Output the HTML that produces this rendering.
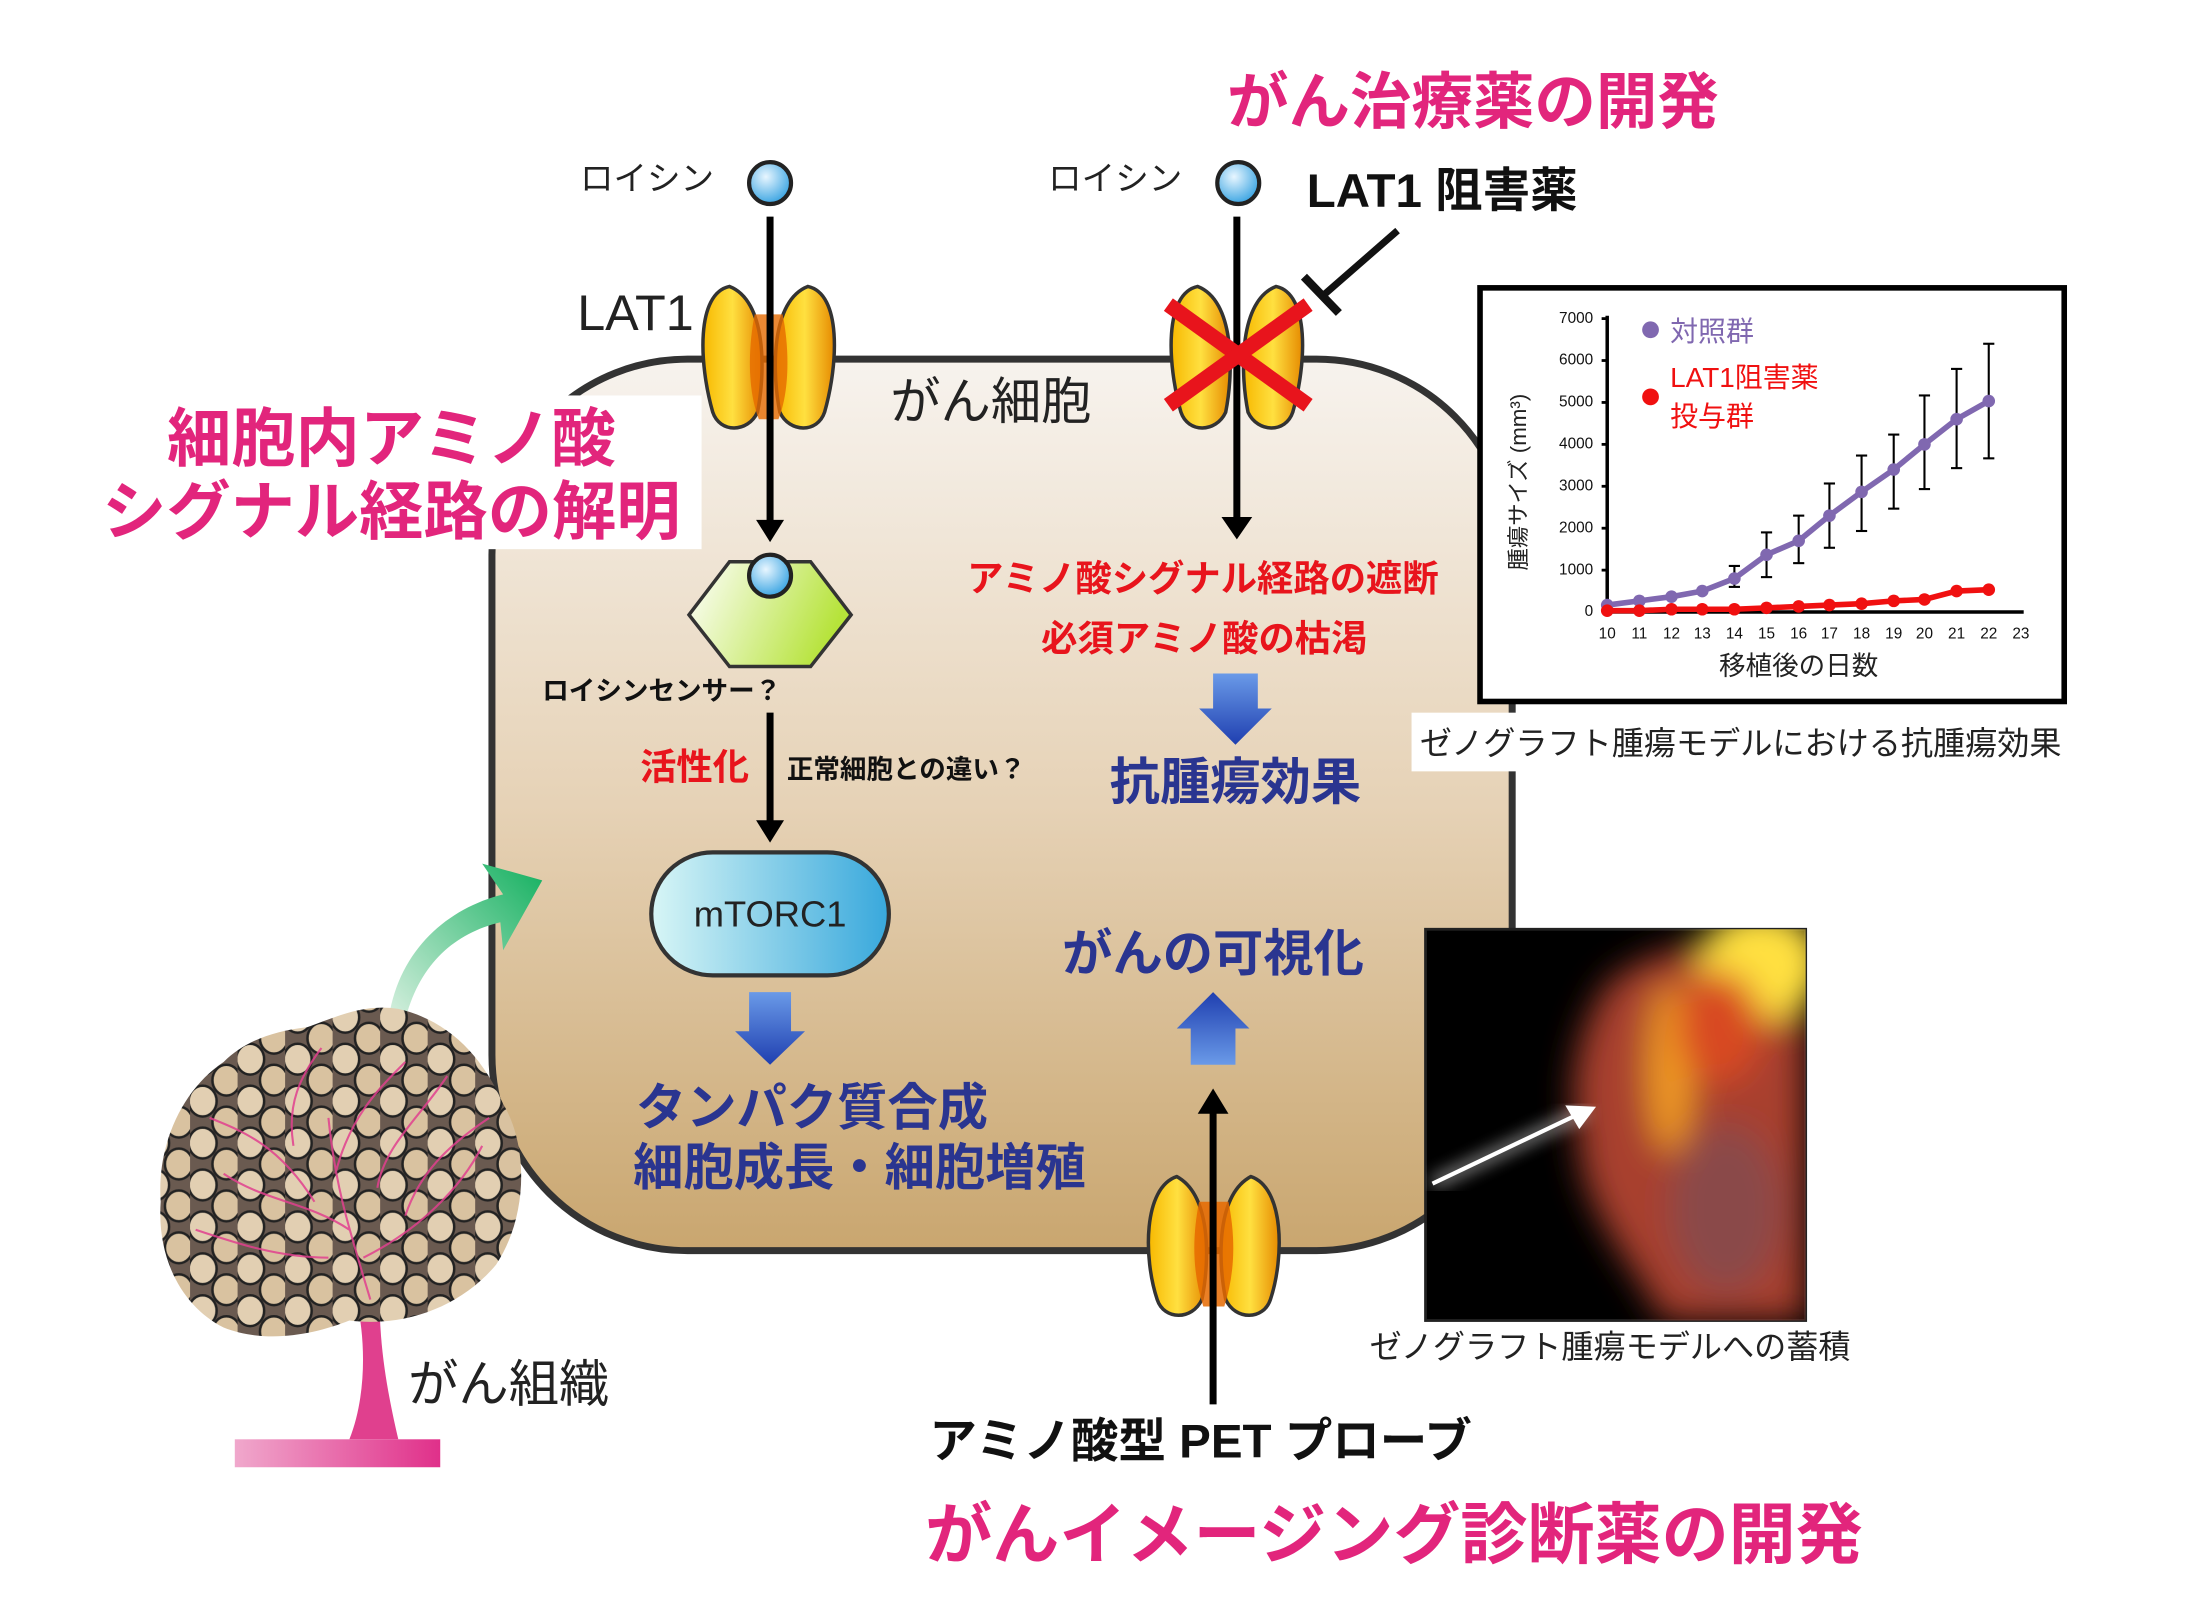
<!DOCTYPE html>
<html><head><meta charset="utf-8"><style>
html,body{margin:0;padding:0;background:#fff}
svg{display:block}
text{font-family:"Liberation Sans","Noto Sans CJK JP",sans-serif}
</style></head><body>
<svg width="2190" height="1600" viewBox="0 0 1567 1145" preserveAspectRatio="none" xmlns="http://www.w3.org/2000/svg">
<defs>
<linearGradient id="cell" x1="0" y1="0" x2="0" y2="1"><stop offset="0" stop-color="#f7f3ee"/><stop offset="0.5" stop-color="#e6d2b6"/><stop offset="1" stop-color="#c9a66f"/></linearGradient>
<radialGradient id="ball" cx="0.4" cy="0.35" r="0.7"><stop offset="0" stop-color="#e8f6ff"/><stop offset="1" stop-color="#2f9fe0"/></radialGradient>
<linearGradient id="hex" x1="0" y1="0" x2="1" y2="0.3"><stop offset="0" stop-color="#ffffff"/><stop offset="1" stop-color="#b6e33a"/></linearGradient>
<linearGradient id="mt" x1="0" y1="0" x2="1" y2="0"><stop offset="0" stop-color="#d8f6f6"/><stop offset="1" stop-color="#38a8dc"/></linearGradient>
<linearGradient id="lobe" x1="0" y1="0" x2="1" y2="0"><stop offset="0" stop-color="#f7b800"/><stop offset="0.5" stop-color="#ffe040"/><stop offset="1" stop-color="#e68a00"/></linearGradient>
<linearGradient id="barr" x1="0" y1="0" x2="0" y2="1"><stop offset="0" stop-color="#6a9ae8"/><stop offset="1" stop-color="#1f3fb0"/></linearGradient>
<linearGradient id="barrUp" x1="0" y1="1" x2="0" y2="0"><stop offset="0" stop-color="#6a9ae8"/><stop offset="1" stop-color="#1f3fb0"/></linearGradient>
<linearGradient id="grn" x1="0" y1="1" x2="1" y2="0"><stop offset="0" stop-color="#d8f0e0"/><stop offset="1" stop-color="#14b060"/></linearGradient>
<linearGradient id="pinkbase" x1="0" y1="0" x2="1" y2="0"><stop offset="0" stop-color="#f0a8cc"/><stop offset="1" stop-color="#e0308a"/></linearGradient>
<pattern id="cells" width="34" height="30" patternUnits="userSpaceOnUse">
<rect width="34" height="30" fill="#6a5a50"/>
<ellipse cx="9" cy="8" rx="10" ry="11" fill="#e2cfb2" stroke="#222" stroke-width="1.8"/>
<ellipse cx="26" cy="23" rx="10" ry="11" fill="#d9c2a0" stroke="#222" stroke-width="1.8"/>
<ellipse cx="26" cy="-7" rx="10" ry="11" fill="#d9c2a0" stroke="#222" stroke-width="1.8"/>
<ellipse cx="9" cy="38" rx="10" ry="11" fill="#e2cfb2" stroke="#222" stroke-width="1.8"/>
</pattern>
<filter id="bl" x="-50%" y="-50%" width="200%" height="200%"><feGaussianBlur stdDeviation="12"/></filter>
<filter id="bl2"><feGaussianBlur stdDeviation="6"/></filter>
</defs>

<text x="878" y="88" font-size="44" font-weight="bold" fill="#e2257c">がん治療薬の開発</text>
<text x="662" y="1115" font-size="48" font-weight="bold" fill="#e2257c">がんイメージング診断薬の開発</text>

<rect x="352" y="257" width="730" height="638" rx="140" fill="url(#cell)" stroke="#333" stroke-width="5"/>
<text x="637" y="300" font-size="36" fill="#222">がん細胞</text>

<rect x="60" y="283" width="442" height="110" fill="#fff"/>
<text x="280" y="330" font-size="46" font-weight="bold" fill="#e2257c" text-anchor="middle">細胞内アミノ酸</text>
<text x="280" y="382" font-size="46" font-weight="bold" fill="#e2257c" text-anchor="middle">シグナル経路の解明</text>

<text x="415" y="136" font-size="24" fill="#222">ロイシン</text>
<circle cx="551" cy="131" r="15" fill="url(#ball)" stroke="#222" stroke-width="3"/>
<text x="750" y="136" font-size="24" fill="#222">ロイシン</text>
<circle cx="886" cy="131" r="15" fill="url(#ball)" stroke="#222" stroke-width="3"/>
<text x="935" y="148" font-size="34" font-weight="bold" fill="#111">LAT1 阻害薬</text>
<line x1="1000" y1="165" x2="945" y2="213" stroke="#111" stroke-width="5"/>
<line x1="933" y1="198" x2="958" y2="224" stroke="#111" stroke-width="6"/>

<text x="413" y="236" font-size="36" fill="#222">LAT1</text>
<g>
<path d="M522,205 C498,210 500,260 510,295 C515,310 535,310 542,295 C548,265 548,215 522,205z" fill="url(#lobe)" stroke="#333" stroke-width="2.5"/>
<path d="M578,205 C602,210 600,260 590,295 C585,310 565,310 558,295 C552,265 552,215 578,205z" fill="url(#lobe)" stroke="#333" stroke-width="2.5"/>
<path d="M540,225 C535,250 535,280 543,300 L557,300 C565,280 565,250 560,225z" fill="#e66a00" opacity="0.8"/>
</g>
<line x1="551" y1="155" x2="551" y2="374" stroke="#000" stroke-width="5"/>
<path d="M541,372 L561,372 L551,388z" fill="#000"/>

<g>
<path d="M857,205 C833,210 835,260 845,295 C850,310 870,310 877,295 C883,265 883,215 857,205z" fill="url(#lobe)" stroke="#333" stroke-width="2.5"/>
<path d="M913,205 C937,210 935,260 925,295 C920,310 900,310 893,295 C887,265 887,215 913,205z" fill="url(#lobe)" stroke="#333" stroke-width="2.5"/>
</g>
<line x1="885" y1="155" x2="885" y2="375" stroke="#000" stroke-width="5"/>
<path d="M874,370 L896,370 L885,386z" fill="#000"/>
<line x1="836" y1="218" x2="936" y2="290" stroke="#e8141c" stroke-width="11"/>
<line x1="936" y1="218" x2="836" y2="290" stroke="#e8141c" stroke-width="11"/>

<polygon points="493,440 522,402 580,402 609,440 580,477 522,477" fill="url(#hex)" stroke="#333" stroke-width="2.5"/>
<circle cx="551" cy="412" r="15" fill="url(#ball)" stroke="#222" stroke-width="3"/>
<text x="388" y="501" font-size="19" font-weight="bold" fill="#111">ロイシンセンサー？</text>
<line x1="551" y1="510" x2="551" y2="590" stroke="#000" stroke-width="5"/>
<path d="M541,587 L561,587 L551,603z" fill="#000"/>
<text x="458" y="558" font-size="26" font-weight="bold" fill="#e8141c">活性化</text>
<text x="563" y="557" font-size="19" font-weight="bold" fill="#111">正常細胞との違い？</text>

<rect x="466" y="610" width="170" height="88" rx="44" fill="url(#mt)" stroke="#333" stroke-width="3"/>
<text x="551" y="663" font-size="26" fill="#222" text-anchor="middle">mTORC1</text>
<path d="M536,710 L566,710 L566,738 L576,738 L551,762 L526,738 L536,738z" fill="url(#barr)"/>
<text x="455" y="805" font-size="36" font-weight="bold" fill="#2a3590">タンパク質合成</text>
<text x="453" y="848" font-size="36" font-weight="bold" fill="#2a3590">細胞成長・細胞増殖</text>

<text x="692" y="423" font-size="26" font-weight="bold" fill="#e8141c">アミノ酸シグナル経路の遮断</text>
<text x="745" y="466" font-size="26" font-weight="bold" fill="#e8141c">必須アミノ酸の枯渇</text>
<path d="M868,482 L900,482 L900,507 L910,507 L884,533 L858,507 L868,507z" fill="url(#barr)"/>
<text x="794" y="572" font-size="36" font-weight="bold" fill="#2a3590">抗腫瘍効果</text>
<text x="760" y="695" font-size="36" font-weight="bold" fill="#2a3590">がんの可視化</text>
<path d="M868,710 L894,736 L884,736 L884,762 L852,762 L852,736 L842,736z" fill="url(#barrUp)"/>

<g>
<path d="M842,842 C818,850 818,900 828,930 C833,945 853,945 860,930 C866,900 866,855 842,842z" fill="url(#lobe)" stroke="#333" stroke-width="2.5"/>
<path d="M895,842 C919,850 919,900 909,930 C904,945 884,945 877,930 C871,900 871,855 895,842z" fill="url(#lobe)" stroke="#333" stroke-width="2.5"/>
<path d="M858,860 C853,885 853,910 861,935 L876,935 C884,910 884,885 879,860z" fill="#e66a00" opacity="0.85"/>
</g>
<line x1="868" y1="1005" x2="868" y2="795" stroke="#000" stroke-width="5"/>
<path d="M857,797 L879,797 L868,779z" fill="#000"/>
<text x="665" y="1043" font-size="34" font-weight="bold" fill="#111">アミノ酸型 PET プローブ</text>

<rect x="1020" y="665" width="272" height="280" fill="#000" stroke="#222" stroke-width="2"/>
<svg x="1020" y="665" width="272" height="280" viewBox="0 0 272 280">
<g filter="url(#bl)">
<path d="M130,40 C160,10 240,0 272,0 L272,280 L170,280 C150,240 110,200 110,150 C100,110 110,70 130,40z" fill="#a8402e"/>
<ellipse cx="240" cy="25" rx="45" ry="40" fill="#ffe040"/>
<ellipse cx="175" cy="100" rx="16" ry="60" fill="#f09a20"/>
<ellipse cx="210" cy="70" rx="30" ry="40" fill="#d84a20"/>
<ellipse cx="215" cy="200" rx="40" ry="60" fill="#8a4a48"/>
</g>
<line x1="5" y1="182" x2="115" y2="130" stroke="#fff" stroke-width="5" filter="url(#bl2)" opacity="0.9"/>
<line x1="5" y1="182" x2="110" y2="132" stroke="#fff" stroke-width="3"/>
<path d="M122,127 L100,126 L110,143z" fill="#fff"/>
</svg>
<text x="980" y="972" font-size="23" fill="#222">ゼノグラフト腫瘍モデルへの蓄積</text>

<rect x="1010" y="510" width="495" height="42" fill="#fff"/>
<text x="1016" y="540" font-size="23" fill="#222">ゼノグラフト腫瘍モデルにおける抗腫瘍効果</text>
<rect x="1059" y="206" width="418" height="296" fill="#fff" stroke="#000" stroke-width="4"/>
<g font-size="11" fill="#111">
<line x1="1150" y1="226" x2="1150" y2="438" stroke="#000" stroke-width="2.5"/>
<line x1="1149" y1="438" x2="1448" y2="438" stroke="#000" stroke-width="2.5"/>
<g text-anchor="end">
<text x="1140" y="441">0</text><text x="1140" y="411">1000</text><text x="1140" y="381">2000</text><text x="1140" y="351">3000</text><text x="1140" y="321">4000</text><text x="1140" y="291">5000</text><text x="1140" y="261">6000</text><text x="1140" y="231">7000</text>
</g>
<g stroke="#000" stroke-width="2">
<line x1="1146" y1="408" x2="1150" y2="408"/><line x1="1146" y1="378" x2="1150" y2="378"/><line x1="1146" y1="348" x2="1150" y2="348"/><line x1="1146" y1="318" x2="1150" y2="318"/><line x1="1146" y1="288" x2="1150" y2="288"/><line x1="1146" y1="258" x2="1150" y2="258"/><line x1="1146" y1="228" x2="1150" y2="228"/>
</g>
<g text-anchor="middle">
<text x="1150" y="457">10</text><text x="1173" y="457">11</text><text x="1196" y="457">12</text><text x="1218" y="457">13</text><text x="1241" y="457">14</text><text x="1264" y="457">15</text><text x="1287" y="457">16</text><text x="1309" y="457">17</text><text x="1332" y="457">18</text><text x="1355" y="457">19</text><text x="1377" y="457">20</text><text x="1400" y="457">21</text><text x="1423" y="457">22</text><text x="1446" y="457">23</text>
</g>
</g>
<g stroke="#000" stroke-width="1.5">
<line x1="1241" y1="405" x2="1241" y2="420"/><line x1="1237" y1="405" x2="1245" y2="405"/><line x1="1237" y1="420" x2="1245" y2="420"/>
<line x1="1264" y1="381" x2="1264" y2="413"/><line x1="1260" y1="381" x2="1268" y2="381"/><line x1="1260" y1="413" x2="1268" y2="413"/>
<line x1="1287" y1="369" x2="1287" y2="403"/><line x1="1283" y1="369" x2="1291" y2="369"/><line x1="1283" y1="403" x2="1291" y2="403"/>
<line x1="1309" y1="346" x2="1309" y2="392"/><line x1="1305" y1="346" x2="1313" y2="346"/><line x1="1305" y1="392" x2="1313" y2="392"/>
<line x1="1332" y1="326" x2="1332" y2="380"/><line x1="1328" y1="326" x2="1336" y2="326"/><line x1="1328" y1="380" x2="1336" y2="380"/>
<line x1="1355" y1="311" x2="1355" y2="364"/><line x1="1351" y1="311" x2="1359" y2="311"/><line x1="1351" y1="364" x2="1359" y2="364"/>
<line x1="1377" y1="283" x2="1377" y2="350"/><line x1="1373" y1="283" x2="1381" y2="283"/><line x1="1373" y1="350" x2="1381" y2="350"/>
<line x1="1400" y1="264" x2="1400" y2="335"/><line x1="1396" y1="264" x2="1404" y2="264"/><line x1="1396" y1="335" x2="1404" y2="335"/>
<line x1="1423" y1="246" x2="1423" y2="328"/><line x1="1419" y1="246" x2="1427" y2="246"/><line x1="1419" y1="328" x2="1427" y2="328"/>
</g>
<polyline points="1150,433 1173,430 1196,427 1218,423 1241,414 1264,397 1287,387 1309,369 1332,352 1355,336 1377,318 1400,300 1423,287" fill="none" stroke="#8068b0" stroke-width="4"/>
<g fill="#8068b0"><circle cx="1150" cy="433" r="4.5"/><circle cx="1173" cy="430" r="4.5"/><circle cx="1196" cy="427" r="4.5"/><circle cx="1218" cy="423" r="4.5"/><circle cx="1241" cy="414" r="4.5"/><circle cx="1264" cy="397" r="4.5"/><circle cx="1287" cy="387" r="4.5"/><circle cx="1309" cy="369" r="4.5"/><circle cx="1332" cy="352" r="4.5"/><circle cx="1355" cy="336" r="4.5"/><circle cx="1377" cy="318" r="4.5"/><circle cx="1400" cy="300" r="4.5"/><circle cx="1423" cy="287" r="4.5"/></g>
<polyline points="1150,437 1173,437 1196,436 1218,436 1241,436 1264,435 1287,434 1309,433 1332,432 1355,430 1377,429 1400,423 1423,422" fill="none" stroke="#f01010" stroke-width="4"/>
<g fill="#f01010"><circle cx="1150" cy="437" r="4.5"/><circle cx="1173" cy="437" r="4.5"/><circle cx="1196" cy="436" r="4.5"/><circle cx="1218" cy="436" r="4.5"/><circle cx="1241" cy="436" r="4.5"/><circle cx="1264" cy="435" r="4.5"/><circle cx="1287" cy="434" r="4.5"/><circle cx="1309" cy="433" r="4.5"/><circle cx="1332" cy="432" r="4.5"/><circle cx="1355" cy="430" r="4.5"/><circle cx="1377" cy="429" r="4.5"/><circle cx="1400" cy="423" r="4.5"/><circle cx="1423" cy="422" r="4.5"/></g>
<circle cx="1181" cy="236" r="6" fill="#8068b0"/>
<text x="1195" y="244" font-size="20" fill="#8068b0">対照群</text>
<circle cx="1181" cy="284" r="6" fill="#f01010"/>
<text x="1195" y="277" font-size="20" fill="#f01010">LAT1阻害薬</text>
<text x="1195" y="305" font-size="20" fill="#f01010">投与群</text>
<text transform="translate(1092,345) rotate(-90)" font-size="16" fill="#222" text-anchor="middle">腫瘍サイズ (mm³)</text>
<text x="1230" y="483" font-size="19" fill="#222">移植後の日数</text>

<path d="M278,730 C285,680 320,650 360,640 L345,618 L388,630 L360,680 L358,660 C325,668 300,690 290,730z" fill="url(#grn)"/>
<rect x="168" y="1030" width="147" height="20" fill="url(#pinkbase)"/>
<path d="M250,1030 C262,1000 262,960 255,930 L248,920 L272,920 C270,960 278,1000 285,1030z" fill="#e0408e"/>
<path d="M160,760 C130,780 112,820 115,860 C112,900 130,935 160,950 C190,962 225,955 250,945 C290,950 330,935 355,905 C378,870 378,820 360,790 C345,755 320,730 285,722 C260,718 240,728 220,735 C195,738 175,745 160,760z" fill="url(#cells)"/>
<g stroke="#e0408e" stroke-width="1.5" fill="none" opacity="0.85">
<path d="M265,930 C250,880 240,850 235,800 M250,880 C220,860 190,860 160,840 M260,900 C300,880 330,850 345,820 M240,840 C250,800 270,780 290,760 M225,860 C200,820 175,810 150,800 M290,870 C300,840 320,820 350,800 M235,900 C200,900 170,890 140,880 M270,850 C275,820 300,800 320,770 M210,820 C205,790 215,770 230,750"/>
</g>
<text x="292" y="1003" font-size="36" fill="#222">がん組織</text>
</svg>
</body></html>
